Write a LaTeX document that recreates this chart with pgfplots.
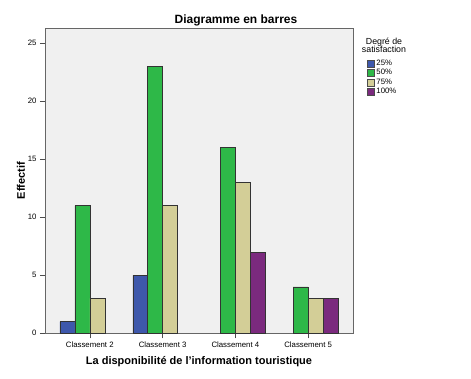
\documentclass[border=0pt]{standalone}
\usepackage{pgfplots}
\pgfplotsset{compat=1.18}
\usepackage{fontspec}
\setmainfont{Liberation Sans}
\definecolor{cA}{HTML}{3E58AC}
\definecolor{cB}{HTML}{2EB848}
\definecolor{cC}{HTML}{D3CE97}
\definecolor{cD}{HTML}{7B2A7E}
\definecolor{bg}{HTML}{F0F0F0}
\begin{document}
\begin{tikzpicture}
\begin{axis}[
  scale only axis, width=308pt, height=305.3pt,
  xmin=-0.616, xmax=3.616, ymin=0, ymax=26.3,
  ybar=0pt, bar width=0.205,
  axis background/.style={fill=bg},
  axis line style={draw=black!60, line width=0.8pt},
  xtick={0,1,2,3}, xticklabels={Classement 2,Classement 3,Classement 4,Classement 5},
  ytick={0,5,10,15,20,25},
  tick align=outside, tick pos=left,
  major tick length=5pt,
  tick style={black!70, line width=0.6pt},
  /pgf/number format/assume math mode=true,
  tick label style={font=\fontsize{7.8}{9}\selectfont},
  xlabel={\bfseries La disponibilité de l'information touristique},
  ylabel={\bfseries Effectif},
  label style={font=\fontsize{11}{12}\selectfont},
  xlabel style={yshift=-2pt},
  ylabel style={yshift=-4pt},
  title={\bfseries Diagramme en barres},
  title style={font=\fontsize{12}{13}\selectfont, yshift=-8pt, xshift=37pt},
  legend style={at={(1.045,0.902)}, anchor=north west, draw=none, fill=none,
    font=\fontsize{7.8}{8.5}\selectfont, row sep=-1.6pt, inner sep=0pt},
  legend cell align=left,
  legend image code/.code={\draw[#1, draw=black!70] (0pt,-3.5pt) rectangle (7pt,3.5pt);},
  clip=false,
]
\addplot[fill=cA, draw=black!80] coordinates {(0,1) (1,5)};
\addplot[fill=cB, draw=black!80] coordinates {(0,11) (1,23) (2,16) (3,4)};
\addplot[fill=cC, draw=black!80] coordinates {(0,3) (1,11) (2,13) (3,3)};
\addplot[fill=cD, draw=black!80] coordinates {(2,7) (3,3)};
\legend{25\%,50\%,75\%,100\%}
\end{axis}
\node[font=\fontsize{8.8}{9.5}\selectfont, align=center, anchor=north] at ([shift={(339pt,-6pt)}]current axis.north west) {Degré de\\[-1pt]satisfaction};
\path ([shift={(-45pt,-44.7pt)}]current axis.south west) rectangle ++(471pt,378pt);
\end{tikzpicture}
\end{document}
